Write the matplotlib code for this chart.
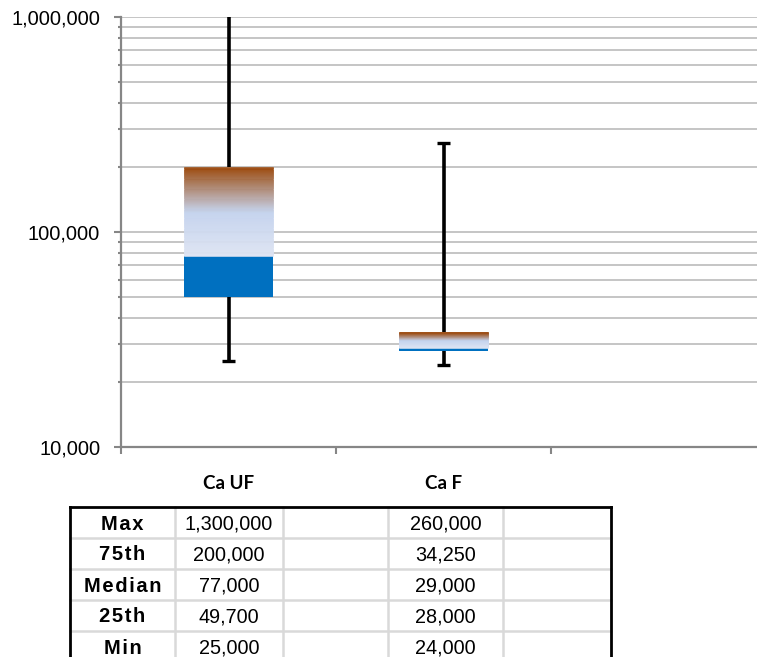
import numpy as np
import matplotlib
matplotlib.use("Agg")
import matplotlib.pyplot as plt
from matplotlib.colors import to_rgb

# ---- data ----
categories = ["Ca UF", "Ca F"]
q_max = [1300000, 260000]
q75 = [200000, 34250]
q_med = [77000, 29000]
q25 = [49700, 28000]
q_min = [25000, 24000]

row_labels = ["Max", "75th", "Median", "25th", "Min"]
col_uf = ["1,300,000", "200,000", "77,000", "49,700", "25,000"]
col_f = ["260,000", "34,250", "29,000", "28,000", "24,000"]

ytick_vals = [10000, 100000, 1000000]
ytick_labels = ["10,000", "100,000", "1,000,000"]

# ---- style ----
W, H = 757, 657
fig = plt.figure(figsize=(W / 100, H / 100), dpi=100)
plt.rcParams['font.family'] = ['Liberation Sans', 'DejaVu Sans']

ax_l, ax_r, ax_t, ax_b = 121, 757, 17, 447
ax = fig.add_axes([ax_l / W, 1 - ax_b / H, (ax_r - ax_l) / W, (ax_b - ax_t) / H])
slot = 215.0
ax.set_yscale('log')
ax.set_ylim(1e4, 1e6)
ax.set_xlim(0, (ax_r - ax_l) / slot)

grid_c = '#c0c0c0'
spine_c = '#868686'
for s in ['top', 'right']:
    ax.spines[s].set_visible(False)
for s in ['left', 'bottom']:
    ax.spines[s].set_color(spine_c)
    ax.spines[s].set_linewidth(1.6)

ax.set_yticks(ytick_vals, ytick_labels)
ax.yaxis.set_minor_locator(matplotlib.ticker.LogLocator(base=10, subs=np.arange(2, 10)))
ax.yaxis.set_minor_formatter(matplotlib.ticker.NullFormatter())
ax.tick_params(axis='y', which='major', length=5, width=1.5, color=spine_c,
               labelsize=14.5, pad=10, labelcolor='black')
ax.tick_params(axis='y', which='minor', length=2, width=1.5, color=spine_c)
ax.grid(True, which='both', axis='y', color=grid_c, linewidth=1.3)
ax.set_axisbelow(True)

ax.set_xticks([0, 1, 2], ['', '', ''])
ax.set_xticks([0.5, 1.5], categories, minor=True)
ax.tick_params(axis='x', which='major', length=5, width=1.5, color=spine_c, direction='out')
ax.tick_params(axis='x', which='minor', length=0, pad=20)
for lab in ax.get_xticklabels(minor=True):
    lab.set_fontfamily(['Lato', 'Liberation Sans'])
    lab.set_fontweight('bold')
    lab.set_fontsize(13.5)

# ---- boxes ----
box_w = 0.41
blue = '#0070c0'
stops = [(0.0, to_rgb('#dfe5f3')), (0.5, to_rgb('#c4d3ee')), (1.0, to_rgb('#9a470a'))]

def grad_color(t):
    for (t0, c0), (t1, c1) in zip(stops[:-1], stops[1:]):
        if t <= t1:
            f = (t - t0) / (t1 - t0)
            return tuple(np.array(c0) * (1 - f) + np.array(c1) * f)
    return stops[-1][1]

xs = np.arange(len(categories)) + 0.5
N = 80
cap_w = 0.056
for i, x in enumerate(xs):
    # whiskers
    ax.plot([x, x], [q_min[i], q25[i]], color='black', lw=2.6, solid_capstyle='butt', zorder=3)
    ax.plot([x, x], [q75[i], q_max[i]], color='black', lw=2.6, solid_capstyle='butt', zorder=3)
    ax.plot([x - cap_w / 2, x + cap_w / 2], [q_min[i], q_min[i]], color='black', lw=2.4,
            solid_capstyle='butt', zorder=3)
    ax.plot([x - cap_w / 2, x + cap_w / 2], [q_max[i], q_max[i]], color='black', lw=2.4,
            solid_capstyle='butt', zorder=3)
    # lower box
    ax.bar(x, q_med[i] - q25[i], bottom=q25[i], width=box_w, color=blue, linewidth=0, zorder=4)
    # upper box gradient
    lm, lq = np.log10(q_med[i]), np.log10(q75[i])
    edges = 10 ** np.linspace(lm, lq, N + 1)
    for k in range(N):
        c = grad_color((k + 0.5) / N)
        ax.bar(x, edges[k + 1] - edges[k], bottom=edges[k], width=box_w, color=c,
               edgecolor=c, linewidth=0.4, zorder=4)

# ---- table ----
tax = fig.add_axes([0, 0, 1, 1])
tax.set_xlim(0, W)
tax.set_ylim(H, 0)
tax.axis('off')
tax.patch.set_alpha(0)

col_edges = [70, 175, 283, 388, 503, 611]
row_top = 507
row_h = 31
n_rows = len(row_labels)
inner_c = '#d9d9d9'
bottom_y = row_top + row_h * n_rows
for k in range(1, n_rows):
    y = row_top + k * row_h
    tax.plot([col_edges[0], col_edges[-1]], [y, y], color=inner_c, lw=1.8)
for xe in col_edges[1:-1]:
    tax.plot([xe, xe], [row_top, bottom_y], color=inner_c, lw=1.8)
tax.plot([col_edges[0], col_edges[-1]], [row_top, row_top], color='black', lw=2)
tax.plot([col_edges[0], col_edges[0]], [row_top, bottom_y], color='black', lw=2)
tax.plot([col_edges[-1], col_edges[-1]], [row_top, bottom_y], color='black', lw=2)

def spaced(s):
    return '\u200a'.join(s)

for k in range(n_rows):
    yc = row_top + (k + 0.5) * row_h + 1.5
    tax.text((col_edges[0] + col_edges[1]) / 2, yc, spaced(row_labels[k]), ha='center', va='center',
             fontsize=14.5, fontweight='bold', family=['Liberation Sans', 'DejaVu Sans'])
    tax.text((col_edges[1] + col_edges[2]) / 2, yc, col_uf[k], ha='center', va='center', fontsize=14.3)
    tax.text((col_edges[3] + col_edges[4]) / 2, yc, col_f[k], ha='center', va='center', fontsize=14.3)

fig.savefig('out.png', dpi=100)
